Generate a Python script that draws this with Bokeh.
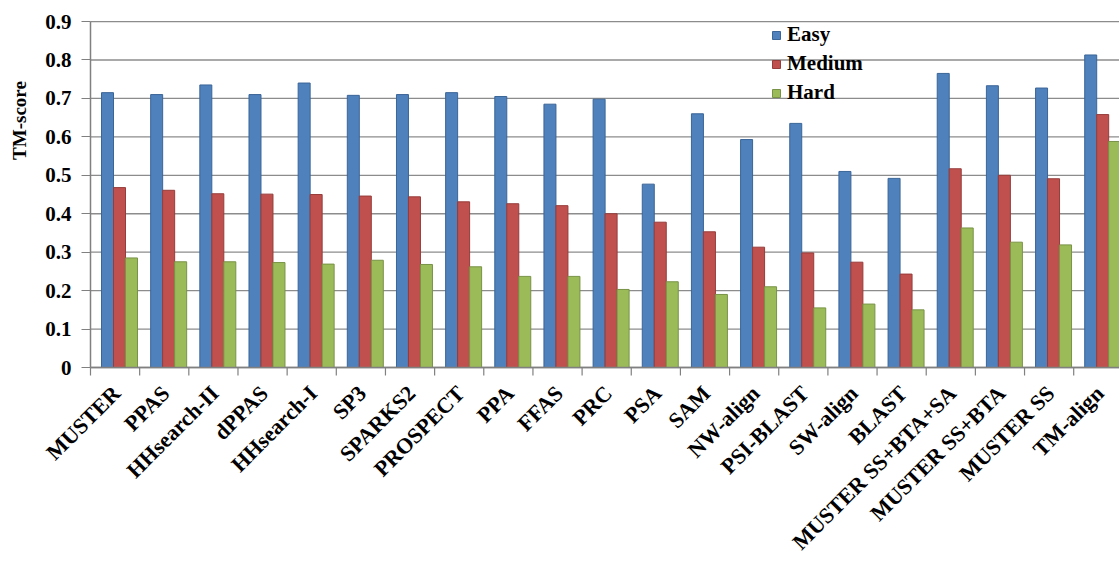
import math
from bokeh.plotting import figure
from bokeh.models import Range1d, FixedTicker, ColumnDataSource, Legend, LegendItem, Label
from bokeh.embed import file_html
from bokeh.resources import INLINE

categories = ["MUSTER", "PPAS", "HHsearch-II", "dPPAS", "HHsearch-I", "SP3", "SPARKS2",
              "PROSPECT", "PPA", "FFAS", "PRC", "PSA", "SAM", "NW-align", "PSI-BLAST",
              "SW-align", "BLAST", "MUSTER SS+BTA+SA", "MUSTER SS+BTA", "MUSTER SS", "TM-align"]
easy = [0.715, 0.710, 0.735, 0.710, 0.740, 0.708, 0.710, 0.715, 0.705, 0.685, 0.698,
        0.477, 0.660, 0.593, 0.635, 0.510, 0.492, 0.765, 0.733, 0.727, 0.813]
medium = [0.468, 0.461, 0.452, 0.451, 0.450, 0.446, 0.444, 0.431, 0.426, 0.421, 0.400,
          0.378, 0.353, 0.313, 0.298, 0.274, 0.243, 0.517, 0.500, 0.491, 0.658]
hard = [0.285, 0.275, 0.275, 0.273, 0.269, 0.279, 0.268, 0.262, 0.237, 0.237, 0.203,
        0.223, 0.190, 0.210, 0.155, 0.165, 0.150, 0.363, 0.326, 0.319, 0.588]
series_names = ["Easy", "Medium", "Hard"]
y_ticks = [0, 0.1, 0.2, 0.3, 0.4, 0.5, 0.6, 0.7, 0.8, 0.9]
y_tick_labels = ["0", "0.1", "0.2", "0.3", "0.4", "0.5", "0.6", "0.7", "0.8", "0.9"]

colors = ["#4F81BD", "#C0504D", "#9BBB59"]
edges = ["#3A6597", "#963C3A", "#789346"]
AXIS_COLOR = "#808080"
GRID_COLOR = "#8C8C8C"
offsets = [-0.184, 0.06, 0.304]
bar_w = 0.244
FONT = "Liberation Serif"

W, H = 1119, 563
PX_X = 49.16          # pixels per category
PX_Y = 384.4          # pixels per TM-score unit
FRAME_LEFT_PX = 90    # where the first category starts
ZERO_PX = 367         # pixel row of y = 0
CAT_START = -0.53     # data x where the first category starts

x_start = CAT_START - FRAME_LEFT_PX / PX_X
x_end = x_start + W / PX_X
y_end = ZERO_PX / PX_Y
y_start = -(H - ZERO_PX) / PX_Y

idx = list(range(len(categories)))
src = ColumnDataSource(dict(
    idx=idx, easy=easy, medium=medium, hard=hard,
    x_easy=[i + offsets[0] for i in idx],
    x_medium=[i + offsets[1] for i in idx],
    x_hard=[i + offsets[2] for i in idx],
))

p = figure(width=W, height=H, output_backend="svg", toolbar_location=None,
           x_range=Range1d(x_start, x_end), y_range=Range1d(y_start, y_end),
           min_border=0)
p.outline_line_color = None
p.background_fill_color = "white"
p.border_fill_color = "white"
p.xgrid.grid_line_color = None
p.ygrid.grid_line_color = None

# horizontal gridlines (start at the y axis)
p.segment(x0=[CAT_START] * len(y_ticks), x1=[x_end] * len(y_ticks), y0=y_ticks, y1=y_ticks,
          line_color=GRID_COLOR, line_width=1.3)

renderers = []
for name, col, c, e in zip(series_names, ["easy", "medium", "hard"], colors, edges):
    r = p.vbar(x="x_" + col, top=col, width=bar_w, bottom=0, source=src,
               fill_color=c, line_color=e, line_width=1)
    renderers.append(r)

# category axis line and boundary ticks
boundaries = [CAT_START] + [i + CAT_START + 1 for i in idx[:-1]]
p.segment(x0=[CAT_START], x1=[x_end], y0=[0], y1=[0], line_color=AXIS_COLOR, line_width=1.5)
p.segment(x0=boundaries, x1=boundaries, y0=[0] * len(boundaries),
          y1=[-8 / PX_Y] * len(boundaries), line_color=AXIS_COLOR, line_width=1.2)

# x axis: labels only, drawn at y = 0
xa = p.xaxis[0]
xa.fixed_location = 0
xa.ticker = FixedTicker(ticks=idx)
xa.major_label_overrides = {i: n for i, n in zip(idx, categories)}
xa.major_label_orientation = math.pi / 4
xa.major_tick_line_color = None
xa.minor_tick_line_color = None
xa.axis_line_color = None
xa.major_label_text_font = FONT
xa.major_label_text_font_style = "bold"
xa.major_label_text_font_size = "22px"
xa.major_label_text_color = "black"
xa.major_label_standoff = 16

# y axis drawn at the left edge of the first category
ya = p.yaxis[0]
ya.fixed_location = CAT_START
ya.bounds = (0, 0.9)
ya.ticker = FixedTicker(ticks=y_ticks)
ya.major_label_overrides = dict(zip(y_ticks, y_tick_labels))
ya.minor_tick_line_color = None
ya.major_tick_line_color = AXIS_COLOR
ya.major_tick_line_width = 1.2
ya.major_tick_out = 9
ya.major_tick_in = 0
ya.axis_line_color = AXIS_COLOR
ya.axis_line_width = 1.5
ya.major_label_text_font = FONT
ya.major_label_text_font_style = "bold"
ya.major_label_text_font_size = "21px"
ya.major_label_text_color = "black"
ya.major_label_standoff = 10

legend = Legend(items=[LegendItem(label=n, renderers=[r]) for n, r in zip(series_names, renderers)],
                location=(771, H - 105))
legend.background_fill_alpha = 0
legend.border_line_alpha = 0
legend.padding = 0
legend.margin = 0
legend.spacing = 4
legend.label_height = 20
legend.glyph_height = 10
legend.glyph_width = 10
legend.label_standoff = 6
legend.label_text_font = FONT
legend.label_text_font_style = "bold"
legend.label_text_font_size = "21px"
legend.label_text_color = "black"
p.add_layout(legend)

ylab = Label(x=x_start + 19 / PX_X, y=(ZERO_PX - 120) / PX_Y, text="TM-score",
             angle=math.pi / 2, text_align="center", text_baseline="middle",
             text_font=FONT, text_font_size="19px", text_font_style="bold",
             text_color="black")
p.add_layout(ylab)

open("out.html", "w").write(file_html(p, INLINE))
